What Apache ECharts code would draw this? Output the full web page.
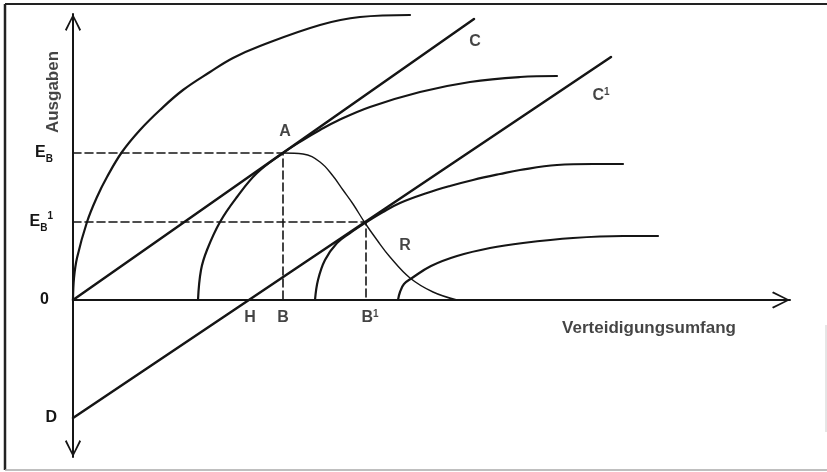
<!DOCTYPE html>
<html>
<head>
<meta charset="utf-8">
<script src="https://cdn.jsdelivr.net/npm/echarts@6/dist/echarts.min.js"></script>
<style>
html,body{margin:0;padding:0;background:#fff;}
#chart{width:827px;height:472px;}
</style>
</head>
<body>
<div id="chart"></div>
<script>
// ---- data (x: Verteidigungsumfang, y: Ausgaben; arbitrary units) ----
const curve1 = [[0,0],[1,22],[4,42],[14,78],[24,103],[34,123],[49,148],[67,170],[87,190],[110,210],[137,228],[160,242],[187,254],[247,275],[287,283],[337,285]];
const curve2 = [[125,0],[128,30],[134,50],[147,78],[164,103],[184,127],[210,147],[230,160],[247,170],[264,179],[297,193],[347,208],[397,218],[447,223],[484,224]];
const curve3 = [[242,0],[245,20],[252,40],[264,57],[277,67],[292,77],[310,88],[327,97],[354,107],[377,114],[400,120],[427,126],[447,130],[484,135],[520,136],[550,136]];
const curve4 = [[325,0],[327,8],[331,16],[339,22],[358,34],[384,44],[417,52],[450,57],[500,62],[550,64],[585,64]];
const curveR = [[210,147],[230,146],[247,138],[260,124],[270,110],[280,96],[292,77],[304,60],[317,43],[337,22],[360,8],[384,0]];
const lineC  = [[0,0],[401,281]];
const lineC1 = [[0,-118],[538,243]];
const guideA  = [[0,147],[210,147],[210,0]];
const guideA1 = [[0,78],[293,78],[293,0]];

const xRange = [0, 717];
const yRange = [-157, 286];

const xTickValues = [177, 210, 293];
const xTickLabels = ['H', 'B', 'B¹'];
const xTickLabelY = -18;
const yTickValues = [-118, 0, 78, 147];
const yTickLabels = ['D', '0', 'E_B¹', 'E_B'];

const pointLabels  = ['A', 'C', 'C¹', 'R', 'Verteidigungsumfang', 'Ausgaben'];
const pointLabelXY = [[212,168],[402,258],[528,204],[332,54],[576,-28],[-20,208]];

// ---- styling / rendering ----
const INK = '#151515';
const FONT = '"Liberation Sans", Arial, Helvetica, sans-serif';
const arrowPath = 'path://M8.5,0 L17,16.8 L15.4,18 L9.4,5.5 L9.4,18 L7.6,18 L7.6,5.5 L1.6,18 L0,16.8 Z';

function yFmt(v) {
  const s = yTickLabels[yTickValues.indexOf(v)];
  if (s === '0') return '{z|0}';
  if (s === 'D') return '{d|D}';
  if (s === 'E_B') return '{e|E}{sbp|B}';
  if (s === 'E_B¹') return '{e|E}{sb|B}{spp|1}';
  return s;
}
function xFmt(s) {
  if (s.endsWith('¹')) return '{bp|' + s.slice(0, -1) + '}{sup|1}';
  return '{t|' + s + '}';
}
function pFmt(s) {
  if (s.endsWith('¹')) return '{t|' + s.slice(0, -1) + '}{sup|1}';
  return '{t|' + s + '}';
}
const richBase = {
  t:   { fontFamily: FONT, fontWeight: 'bold', fontSize: 16, lineHeight: 18, color: INK },
  bp:  { fontFamily: FONT, fontWeight: 'bold', fontSize: 16, lineHeight: 18, color: INK, padding: [0,0,0,8] },
  sup: { fontFamily: FONT, fontWeight: 'bold', fontSize: 10, color: INK, verticalAlign: 'top' }
};

function curve(name, data, width, dash) {
  return {
    name: name, type: 'line', data: data, symbol: 'none', smooth: dash ? false : 0.4,
    silent: true, z: 3,
    lineStyle: { color: INK, width: width, type: dash || 'solid', cap: 'round', join: 'round' }
  };
}

const labelData = pointLabels.map(function (s, i) {
  const big = s.length > 3;
  return {
    name: s, value: pointLabelXY[i],
    label: {
      show: true, position: 'inside', formatter: pFmt(s),
      rotate: s === 'Ausgaben' ? 90 : 0,
      rich: {
        t:   { fontFamily: FONT, fontWeight: 'bold', fontSize: big ? 17 : 16, lineHeight: 18, color: INK },
        sup: richBase.sup
      }
    }
  };
}).concat(xTickValues.map(function (v, i) {
  return {
    name: xTickLabels[i], value: [v, xTickLabelY],
    label: { show: true, position: 'inside', formatter: xFmt(xTickLabels[i]), rich: richBase }
  };
}));

const chart = echarts.init(document.getElementById('chart'), null, { renderer: 'canvas' });
chart.setOption({
  animation: false,
  backgroundColor: '#ffffff',
  grid: { left: 73, right: 37, top: 14, bottom: 15, containLabel: false, outerBoundsMode: 'none' },
  xAxis: {
    type: 'value', min: xRange[0], max: xRange[1],
    splitLine: { show: false }, axisTick: { show: false }, axisLabel: { show: false },
    axisLine: { onZero: true, lineStyle: { color: INK, width: 2 },
      symbol: ['none', arrowPath], symbolSize: [17, 18], symbolOffset: [0, -9] }
  },
  yAxis: {
    type: 'value', min: yRange[0], max: yRange[1],
    splitLine: { show: false }, axisTick: { show: false },
    axisLine: { onZero: true, lineStyle: { color: INK, width: 2 },
      symbol: [arrowPath, arrowPath], symbolSize: [17, 17], symbolOffset: [8.5, -8.5] },
    axisLabel: {
      customValues: yTickValues, formatter: yFmt, margin: 16,
      color: INK, fontFamily: FONT, fontWeight: 'bold', fontSize: 16,
      rich: {
        z:   { fontFamily: FONT, fontWeight: 'bold', fontSize: 16, color: INK, padding: [0,8,0,0] },
        d:   { fontFamily: FONT, fontWeight: 'bold', fontSize: 16, color: INK },
        e:   { fontFamily: FONT, fontWeight: 'bold', fontSize: 16, lineHeight: 22, color: INK },
        sb:  { fontFamily: FONT, fontWeight: 'bold', fontSize: 10, color: INK, verticalAlign: 'bottom' },
        sbp: { fontFamily: FONT, fontWeight: 'bold', fontSize: 10, color: INK, verticalAlign: 'bottom', padding: [0,4,0,0] },
        spp: { fontFamily: FONT, fontWeight: 'bold', fontSize: 10, color: INK, verticalAlign: 'top', padding: [0,4,0,0] }
      }
    }
  },
  graphic: [
    { type: 'line', silent: true, shape: { x1: 5, y1: 4, x2: 827, y2: 4 }, style: { stroke: '#222', lineWidth: 2 } },
    { type: 'line', silent: true, shape: { x1: 5, y1: 4, x2: 5, y2: 470 }, style: { stroke: '#222', lineWidth: 2.5 } },
    { type: 'line', silent: true, shape: { x1: 5, y1: 470, x2: 827, y2: 470 }, style: { stroke: '#aaa', lineWidth: 1.5 } },
    { type: 'line', silent: true, shape: { x1: 826, y1: 325, x2: 826, y2: 432 }, style: { stroke: '#ccc', lineWidth: 1 } }
  ],
  series: [
    curve('Kurve 1', curve1, 2.2),
    curve('Kurve 2', curve2, 2.2),
    curve('Kurve 3', curve3, 2.2),
    curve('Kurve 4', curve4, 2.2),
    curve('C', lineC, 2.5),
    curve('C¹', lineC1, 2.5),
    curve('R', curveR, 1.4),
    curve('E_B', guideA, 1.6, [8, 4]),
    curve('E_B¹', guideA1, 1.6, [8, 4]),
    {
      name: 'labels', type: 'scatter', silent: true, clip: false, z: 5,
      symbolSize: 1, itemStyle: { color: 'rgba(0,0,0,0)' },
      data: labelData
    }
  ]
});
</script>
</body>
</html>
